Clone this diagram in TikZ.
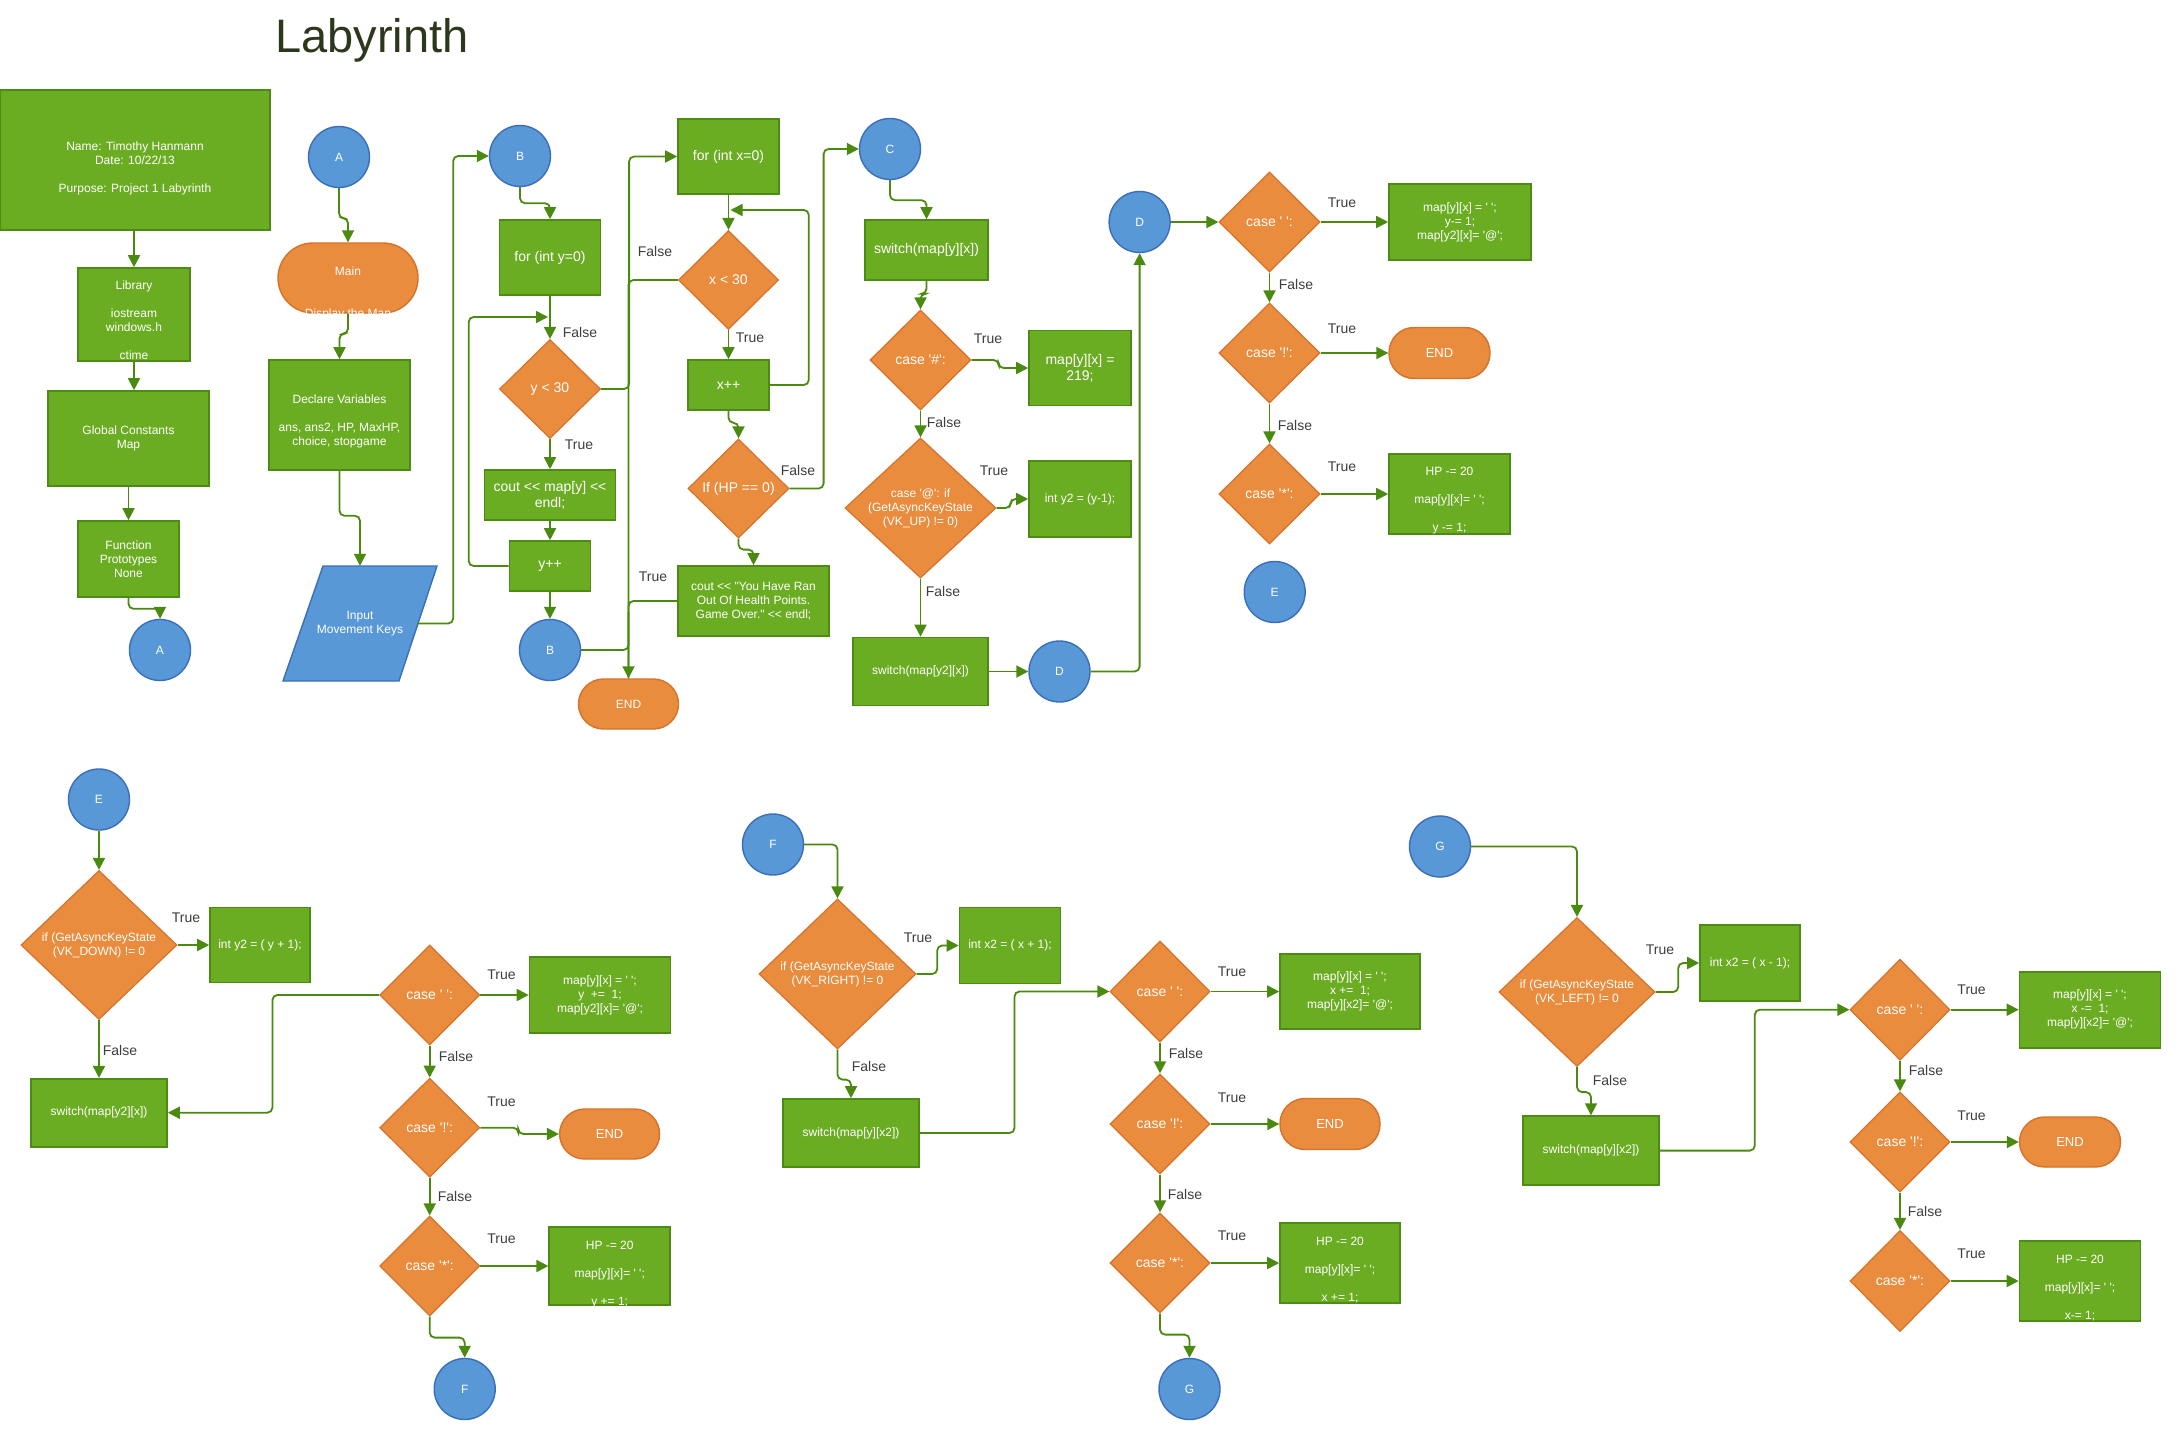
\documentclass[tikz,border=0pt]{standalone}
\usepackage{fontspec}
\newfontfamily\arialf{Liberation Sans}
\usetikzlibrary{shapes.geometric,arrows.meta}

\definecolor{gfill}{RGB}{107,173,34}
\definecolor{gline}{RGB}{76,140,20}
\definecolor{ofill}{RGB}{233,140,62}
\definecolor{oline}{RGB}{214,114,42}
\definecolor{bfill}{RGB}{88,152,214}
\definecolor{bline}{RGB}{58,110,188}
\definecolor{wirecol}{RGB}{74,138,16}
\definecolor{tagcol}{RGB}{62,62,62}
\definecolor{titlecol}{RGB}{44,56,28}

\tikzset{
  f12/.style={font=\arialf\fontsize{12}{14}\selectfont},
  f13/.style={font=\arialf\fontsize{13}{15}\selectfont},
  f14/.style={font=\arialf\fontsize{14}{16}\selectfont},
  sz/.style 2 args={minimum width=#1pt, minimum height=#2pt},
  procbox/.style={rectangle, draw=gline, fill=gfill, line width=1.6pt, text=white,
    align=center, inner sep=0pt, f12},
  decide/.style={diamond, draw=oline, fill=ofill, line width=1.2pt, text=white,
    align=center, inner sep=-8pt, f14},
  term/.style={rectangle, rounded corners=#1, draw=oline, fill=ofill, line width=1.4pt,
    text=white, align=center, inner sep=0pt, f12},
  term/.default=25pt,
  link/.style={circle, draw=bline, fill=bfill, line width=1.4pt, text=white,
    inner sep=0pt, minimum size=61pt, f12},
  txt/.style={text=white, align=center, inner sep=0pt, f12},
  tag/.style={text=tagcol, inner sep=0pt, f14},
  wire/.style={draw=wirecol, line width=1.8pt, rounded corners=5pt,
    -{Triangle[length=12pt,width=12pt]}},
  bare/.style={draw=wirecol, line width=1.8pt, rounded corners=5pt},
}

\begin{document}
\begin{tikzpicture}[x=1pt, y=-1pt]
\useasboundingbox (0,0) rectangle (2180,1440);
\fill[white] (0,0) rectangle (2180,1440);

% title
\node[anchor=base west, inner sep=0pt, text=titlecol,
  font=\arialf\fontsize{47}{56}\selectfont] (title) at (275,52) {Labyrinth};

% ---------------- header column
\node[procbox, sz={270}{140}] (head) at (135,160) {};
\node[txt] (headT) at (135,168) {Name: Timothy Hanmann\\Date: 10/22/13\\[14pt]Purpose: Project 1 Labyrinth};
\node[procbox, sz={112}{93}] (lib) at (134,314.5) {};
\node[txt] (libT) at (134,320.6) {Library\\[14pt]iostream\\windows.h\\[14pt]ctime};
\node[procbox, sz={161}{95}] (glob) at (128.5,438.5) {Global Constants\\Map};
\node[procbox, sz={101}{76}] (proto) at (128.5,559) {Function\\Prototypes\\None};
\node[link] (a1) at (160,650) {A};

% ---------------- main column
\node[link] (a2) at (339,157) {A};
\node[term=35pt, sz={140}{70}] (main) at (348,278) {};
\node[txt] (mainT) at (348,293) {Main\\[28pt]Display the Map};
\node[procbox, sz={141}{110}] (decl) at (339.5,415) {};
\node[txt] (declT) at (339.5,421.5) {Declare Variables\\[14pt]ans, ans2, HP, MaxHP,\\choice, stopgame};
\filldraw[fill=bfill, draw=bline, line width=1.4pt] (283,681) -- (323,566) -- (437,566) -- (399,681) -- cycle;
\node[txt, minimum width=114pt, minimum height=115pt] (input) at (360,623.5) {Input\\Movement Keys};

% ---------------- y loop
\node[link] (b1) at (520,156) {B};
\node[procbox, f14, sz={101}{75}] (fory) at (550,257.5) {for (int y=0)};
\node[decide, sz={101}{99}] (ylt) at (550,389) {y < 30};
\node[procbox, f14, sz={131}{50}] (coutmap) at (550,495) {cout << map[y] <<\\endl;};
\node[procbox, f14, sz={81}{50}] (ypp) at (550,566) {y++};
\node[link] (b2) at (550,650) {B};
\node[term, sz={100}{50}] (end1) at (628.5,704) {END};

% ---------------- x loop
\node[procbox, f14, sz={101}{75}] (forx) at (728.5,156.5) {for (int x=0)};
\node[decide, sz={100}{99}] (xlt) at (728.5,280) {x < 30};
\node[procbox, f14, sz={81}{50}] (xpp) at (728.5,385) {x++};
\node[decide, sz={101}{99}] (hpz) at (738.5,488.5) {If (HP == 0)};
\node[procbox, sz={151}{70}] (over) at (753.5,601) {cout << "You Have Ran\\Out Of Health Points.\\Game Over." << endl;};

% ---------------- C block
\node[link] (c1) at (890,149) {C};
\node[procbox, f14, sz={123}{60}] (sw1) at (926.5,250) {switch(map[y][x])};
\node[decide, sz={101}{100}] (hash) at (920.5,360) {case '\#':};
\node[procbox, f14, sz={102}{75}] (wall) at (1080,368) {map[y][x] =\\219;};
\node[decide, f12, sz={151}{140}] (up) at (920.5,508) {case '@': if\\(GetAsyncKeyState\\(VK\_UP) != 0)};
\node[procbox, sz={102}{76}] (y2a) at (1080,499) {int y2 = (y-1);};
\node[procbox, sz={135}{68}] (sw2) at (920.5,671.5) {switch(map[y2][x])};
\node[link] (d2) at (1059.5,671.5) {D};

% ---------------- D block
\node[link] (d1) at (1139.6,222) {D};
\node[decide, sz={101}{100}] (sp1) at (1269.5,222) {case ' ':};
\node[procbox, sz={142}{76}] (mv1) at (1460,222) {map[y][x] = ' ';\\y-= 1;\\map[y2][x]= '@';};
\node[decide, sz={101}{100}] (ex1) at (1269.5,353) {case '!':};
\node[term, f13, sz={101}{51}] (end2) at (1439.5,353) {END};
\node[decide, sz={101}{100}] (st1) at (1269.5,494) {case '*':};
\node[procbox, sz={121}{80}] (hp1) at (1449.5,494) {};
\node[txt] (hp1T) at (1449.5,501) {HP -= 20\\[14pt]map[y][x]= ' ';\\[14pt]y -= 1;};
\node[link] (e1) at (1274.7,592) {E};

% ---------------- E block
\node[link] (e2) at (99,799.5) {E};
\node[decide, f12, sz={156}{149}] (dn) at (99,945) {if (GetAsyncKeyState\\(VK\_DOWN) != 0};
\node[procbox, sz={100}{75}] (y2b) at (260,945) {int y2 = ( y + 1);};
\node[procbox, sz={136}{68}] (sw3) at (99,1112.7) {switch(map[y2][x])};
\node[decide, sz={100}{100}] (sp2) at (429.7,995) {case ' ':};
\node[procbox, sz={141}{76}] (mv2) at (600,995) {map[y][x] = ' ';\\y~~+=~~1;\\map[y2][x]= '@';};
\node[decide, sz={100}{99}] (ex2) at (429.7,1127.7) {case '!':};
\node[term, f13, sz={100}{50}] (end3) at (609.6,1134) {END};
\node[decide, sz={100}{100}] (st2) at (429.7,1266) {case '*':};
\node[procbox, sz={121}{78}] (hp2) at (609.7,1266) {};
\node[txt] (hp2T) at (609.7,1274.5) {HP -= 20\\[14pt]map[y][x]= ' ';\\[14pt]y += 1;};
\node[link] (f1) at (464.7,1389) {F};

% ---------------- F block
\node[link] (f2) at (773,844.5) {F};
\node[decide, f12, sz={157}{150}] (rt) at (837.5,974) {if (GetAsyncKeyState\\(VK\_RIGHT) != 0};
\node[procbox, sz={101}{76}] (x2a) at (1010,945.5) {int x2 = ( x + 1);};
\node[procbox, sz={136}{68}] (sw4) at (851,1133) {switch(map[y][x2])};
\node[decide, sz={100}{101}] (sp3) at (1160,991.5) {case ' ':};
\node[procbox, sz={140}{75}] (mv3) at (1350,991.5) {map[y][x] = ' ';\\x +=~~1;\\map[y][x2]= '@';};
\node[decide, sz={100}{100}] (ex3) at (1160,1124) {case '!':};
\node[term, f13, sz={100}{51}] (end4) at (1330,1124) {END};
\node[decide, sz={100}{100}] (st3) at (1160,1263) {case '*':};
\node[procbox, sz={120}{80}] (hp3) at (1340,1263) {};
\node[txt] (hp3T) at (1340,1270.5) {HP -= 20\\[14pt]map[y][x]= ' ';\\[14pt]x += 1;};
\node[link] (g1) at (1189.5,1389) {G};

% ---------------- G block
\node[link] (g2) at (1440,846.5) {G};
\node[decide, f12, sz={156}{149}] (lf) at (1577,992) {if (GetAsyncKeyState\\(VK\_LEFT) != 0};
\node[procbox, sz={100}{76}] (x2b) at (1750,963) {int x2 = ( x - 1);};
\node[procbox, sz={136}{69}] (sw5) at (1591,1150.6) {switch(map[y][x2])};
\node[decide, sz={100}{101}] (sp4) at (1900,1009.7) {case ' ':};
\node[procbox, sz={141}{76}] (mv4) at (2090,1009.7) {map[y][x] = ' ';\\x -=~~1;\\map[y][x2]= '@';};
\node[decide, sz={100}{100}] (ex4) at (1900,1142) {case '!':};
\node[term, f13, sz={101}{50}] (end5) at (2070,1142) {END};
\node[decide, sz={100}{101}] (st4) at (1900,1281) {case '*':};
\node[procbox, sz={121}{80}] (hp4) at (2080,1281) {};
\node[txt] (hp4T) at (2080,1288) {HP -= 20\\[14pt]map[y][x]= ' ';\\[14pt]x-= 1;};

% free ends of loop-back connectors
\coordinate (yloop) at (548,317);
\coordinate (xloop) at (730.5,210);
\coordinate (trunkup) at (628.5,612);

% ---------------- connectors
\draw[wire] (lib.north |- head.south) -- (lib.north);
\draw[wire] (lib.south) -- (lib.south |- glob.north);
\draw[wire] (glob.south) -- (proto.north);
\draw[wire] (proto.south) -- ++(0,11) -| (a1.north);
\draw[wire] (a2.south) -- ++(0,30) -| (main.north);
\draw[wire] (main.south) -- ++(0,20) -| (decl.north);
\draw[wire] (decl.south) -- ++(0,45) -| (input.north);
\draw[wire] (input.east) -- ++(36,0) |- (b1.west);

\draw[wire] (b1.south) -- ++(0,16) -| (fory.north);
\draw[wire] (fory.south) -- (ylt.north);
\draw[wire] (ylt.south) -- (coutmap.north);
\draw[wire] (coutmap.south) -- (ypp.north);
\draw[wire] (ypp.west) -- ++(-40,0) |- (yloop);
\draw[wire] (ypp.south) -- (b2.north);
\draw[wire] (ylt.east) -- ++(28,0) |- (forx.west);
\draw[wire] (xlt.west) -| (end1.north);
\draw[bare] (over.west) -| (end1.north);
\draw[bare] (b2.east) -| (trunkup);

\draw[wire] (forx.south) -- (xlt.north);
\draw[wire] (xlt.south) -- (xpp.north);
\draw[wire] (xpp.east) -- ++(39,0) |- (xloop);
\draw[wire] (xpp.south) -- ++(0,12) -| (hpz.north);
\draw[wire] (hpz.east) -- ++(34,0) |- (c1.west);
\draw[wire] (hpz.south) -- ++(0,11) -| (over.north);

\draw[wire] (c1.south) -- ++(0,20) -| (sw1.north);
\draw[wire] (sw1.south) -- ++(0,13) -| (hash.north);
\draw[wire] (hash.east) -- ++(27,0) |- (wall.west);
\draw[wire] (hash.south) -- (up.north);
\draw[wire] (up.east) -- ++(14,0) |- (y2a.west);
\draw[wire] (up.south) -- (sw2.north);
\draw[wire] (sw2.east) -- (d2.west);
\draw[wire] (d2.east) -| (d1.south);

\draw[wire] (d1.east) -- (sp1.west);
\draw[wire] (sp1.east) -- (mv1.west);
\draw[wire] (sp1.south) -- (ex1.north);
\draw[wire] (ex1.east) -- (end2.west);
\draw[wire] (ex1.south) -- (st1.north);
\draw[wire] (st1.east) -- (hp1.west);

\draw[wire] (e2.south) -- (dn.north);
\draw[wire] (dn.east) -- (y2b.west);
\draw[wire] (dn.south) -- (sw3.north);
\draw[wire] (sp2.west) -- ++(-106.7,0) |- (sw3.east);
\draw[wire] (sp2.east) -- (mv2.west);
\draw[wire] (sp2.south) -- (ex2.north);
\draw[wire] (ex2.east) -- ++(38,0) |- (end3.west);
\draw[wire] (ex2.south) -- (st2.north);
\draw[wire] (st2.east) -- (hp2.west);
\draw[wire] (st2.south) -- ++(0,21) -| (f1.north);

\draw[wire] (f2.east) -| (rt.north);
\draw[wire] (rt.east) -- ++(20.6,0) |- (x2a.west);
\draw[wire] (rt.south) -- ++(0,30) -| (sw4.north);
\draw[wire] (sw4.east) -- ++(94.7,0) |- (sp3.west);
\draw[wire] (sp3.east) -- (mv3.west);
\draw[wire] (sp3.south) -- (ex3.north);
\draw[wire] (ex3.east) -- (end4.west);
\draw[wire] (ex3.south) -- (st3.north);
\draw[wire] (st3.east) -- (hp3.west);
\draw[wire] (st3.south) -- ++(0,21) -| (g1.north);

\draw[wire] (g2.east) -| (lf.north);
\draw[wire] (lf.east) -- ++(22.6,0) |- (x2b.west);
\draw[wire] (lf.south) -- ++(0,25) -| (sw5.north);
\draw[wire] (sw5.east) -- ++(95,0) |- (sp4.west);
\draw[wire] (sp4.east) -- (mv4.west);
\draw[wire] (sp4.south) -- (ex4.north);
\draw[wire] (ex4.east) -- (end5.west);
\draw[wire] (ex4.south) -- (st4.north);
\draw[wire] (st4.east) -- (hp4.west);

% ---------------- branch labels
\node[tag] (l01) at (580,332) {False};
\node[tag] (l02) at (579,445) {True};
\node[tag] (l03) at (655,251) {False};
\node[tag] (l04) at (750,338) {True};
\node[tag] (l05) at (798,470) {False};
\node[tag] (l06) at (653,577) {True};
\node[tag] (l07) at (988,339) {True};
\node[tag] (l08) at (944,422) {False};
\node[tag] (l09) at (994,471) {True};
\node[tag] (l10) at (943,591) {False};
\node[tag] (l11) at (1342,203) {True};
\node[tag] (l12) at (1296,284) {False};
\node[tag] (l13) at (1342,329) {True};
\node[tag] (l14) at (1295,425) {False};
\node[tag] (l15) at (1342,467) {True};
\node[tag] (l16) at (186,918) {True};
\node[tag] (l17) at (120,1050) {False};
\node[tag] (l18) at (501.5,974.7) {True};
\node[tag] (l19) at (456,1056) {False};
\node[tag] (l20) at (501.5,1101.3) {True};
\node[tag] (l21) at (455,1196.7) {False};
\node[tag] (l22) at (501.5,1239) {True};
\node[tag] (l23) at (918,938) {True};
\node[tag] (l24) at (869,1066) {False};
\node[tag] (l25) at (1232,972) {True};
\node[tag] (l26) at (1186,1053) {False};
\node[tag] (l27) at (1232,1098) {True};
\node[tag] (l28) at (1185,1194) {False};
\node[tag] (l29) at (1232,1236) {True};
\node[tag] (l30) at (1660,950) {True};
\node[tag] (l31) at (1610,1080) {False};
\node[tag] (l32) at (1971.6,990) {True};
\node[tag] (l33) at (1926,1070) {False};
\node[tag] (l34) at (1971.6,1116) {True};
\node[tag] (l35) at (1925,1211) {False};
\node[tag] (l36) at (1971.6,1254) {True};
\end{tikzpicture}
\end{document}
